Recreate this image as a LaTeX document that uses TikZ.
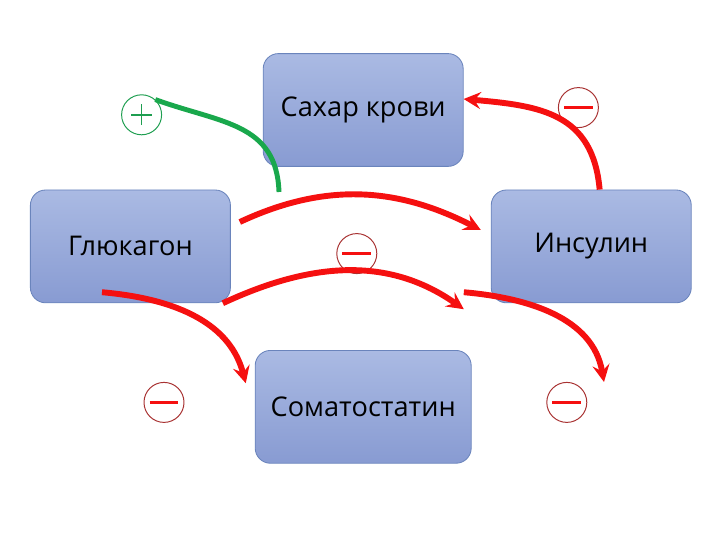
\documentclass[tikz,border=0pt]{standalone}
\usepackage{fontspec}
\setmainfont{Open Sans}
\usetikzlibrary{arrows, positioning}

\definecolor{boxtop}{HTML}{AABAE3}
\definecolor{boxbottom}{HTML}{889BD2}
\definecolor{boxline}{HTML}{6A84BC}
\definecolor{signred}{HTML}{A83232}
\definecolor{signgreen}{HTML}{1E9E50}
\definecolor{linkred}{HTML}{F51010}
\definecolor{linkgreen}{HTML}{19A84C}

\begin{document}
\begin{tikzpicture}[> = stealth, % arrow head style
                node distance = 6.5cm, % distance between boxes
                semithick % line style
            ]
            \useasboundingbox (0,0) rectangle (18,13.5);

            \tikzstyle{box}=[draw = boxline, rectangle, rounded corners = 0.38cm,
            top color = boxtop, bottom color = boxbottom, minimum width = 5cm,
            minimum height = 2.82cm, font = \fontsize{19.3}{23}\selectfont]
            \tikzstyle{sign}=[circle, inner sep = 0pt, minimum size = 1cm,
            line width = 0.7pt]
            \tikzstyle{minussign}=[sign, draw = signred, path picture = {
            \draw[linkred, line width = 1.6pt]
            ([xshift = -0.36cm]path picture bounding box.center) --
            ([xshift = 0.36cm]path picture bounding box.center);}]
            \tikzstyle{plussign}=[sign, draw = signgreen, path picture = {
            \draw[signgreen, line width = 1pt]
            ([xshift = -0.26cm]path picture bounding box.center) --
            ([xshift = 0.26cm]path picture bounding box.center)
            ([yshift = -0.26cm]path picture bounding box.center) --
            ([yshift = 0.26cm]path picture bounding box.center);}]
            \tikzstyle{link}=[linkred, line width = 4.2pt]

            % boxes
            \node[box] (sugar) at (9.08,10.75) {Сахар крови};
            \node[box] (gluc) at (3.26,7.34) {Глюкагон}; \node[box] (ins)
            [right = of gluc] {Инсулин}; \node[box, minimum width = 5.4cm]
            (soma) [below = 4.58cm of sugar] {Соматостатин};

            % signs
            \node[plussign] (plus) at (3.54,10.63) {}; \node[minussign] (m1) at
            (14.46,10.81) {}; \node[minussign] (m2) at (8.92,7.16) {};
            \node[minussign] (m3) at (4.1,3.44) {}; \node[minussign] (m4) at
            (14.17,3.44) {};

            \coordinate (gstart) at (6.975,8.7); \coordinate (eend) at
            (15.1,3.95);

            % connectors
            \path[linkgreen, line width = 3.5pt] (gstart) edge[out = 92, in = -20,
            looseness = 1.15] (plus.48);
            \path[link, ->] ([xshift = 0.21cm]ins.north) edge[out = 95, in = -5,
            looseness = 1.2] ([yshift = 0.275cm]sugar.east);
            \path[link, ->] ([xshift = 0.225cm, yshift = 0.61cm]gluc.east)
            edge[out = 25, in = 153] ([xshift = -0.25cm, yshift = 0.41cm]ins.west);
            \path[link, ->] ([xshift = -0.2cm]gluc.south east) edge[out = 25, in
            = 145] ([xshift = -0.675cm, yshift = -0.15cm]ins.south west);
            \path[link, ->] ([xshift = -0.71cm, yshift = 0.275cm]gluc.south)
            edge[out = -5, in = 105] ([xshift = -0.225cm, yshift = 0.59cm]soma.west);
            \path[link, ->] ([xshift = -0.675cm, yshift = 0.275cm]ins.south west)
            edge[out = -5, in = 100] (eend);
\end{tikzpicture}
\end{document}
